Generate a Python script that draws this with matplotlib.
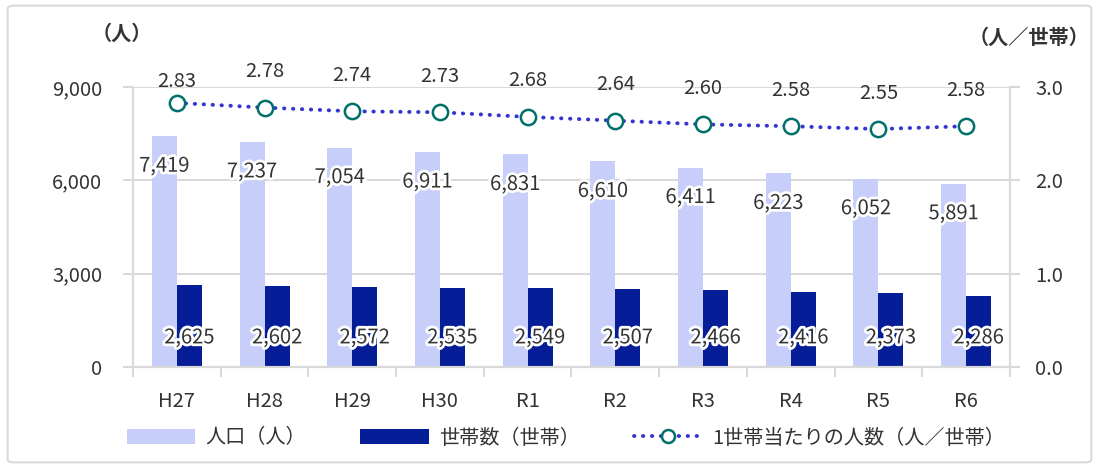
import numpy as np
import matplotlib
matplotlib.use("Agg")
import matplotlib.pyplot as plt
import matplotlib.patheffects as pe
from matplotlib.patches import FancyBboxPatch
from matplotlib.ticker import FuncFormatter, FixedLocator

plt.rcParams['font.family'] = ['Noto Sans CJK JP', 'DejaVu Sans']

# データ
years = ['H27', 'H28', 'H29', 'H30', 'R1', 'R2', 'R3', 'R4', 'R5', 'R6']
population = [7419, 7237, 7054, 6911, 6831, 6610, 6411, 6223, 6052, 5891]
households = [2625, 2602, 2572, 2535, 2549, 2507, 2466, 2416, 2373, 2286]
per_household = [2.83, 2.78, 2.74, 2.73, 2.68, 2.64, 2.60, 2.58, 2.55, 2.58]

light = '#C6CEF9'
dark = '#061D98'
line_c = '#3535D0'
marker_c = '#00706A'
grid_c = '#D9D9D9'
text_c = '#333333'
fs = 14.5

fig = plt.figure(figsize=(10.99, 4.68), dpi=100)
fig.patches.append(FancyBboxPatch((0.007, 0.012), 0.986, 0.976, boxstyle='round,pad=0,rounding_size=0.006',
                                  transform=fig.transFigure, fill=False, edgecolor=grid_c, linewidth=1.5))
ax = fig.add_axes([0.121, 0.216, 0.798, 0.598])
ax2 = ax.twinx()

x = np.arange(len(years))
w = 0.285
ax.bar(x - w / 2, population, w, color=light, zorder=2, label='人口（人）')
ax.bar(x + w / 2, households, w, color=dark, zorder=2, label='世帯数（世帯）')
ln, = ax2.plot(x, per_household, linestyle=(0, (0.1, 2.2)), dash_capstyle='round', color=line_c, linewidth=2.8,
               marker='o', markersize=11, markerfacecolor='white', markeredgecolor=marker_c,
               markeredgewidth=1.8, label='1世帯当たりの人数（人／世帯）', zorder=3)

glow = [pe.withStroke(linewidth=4, foreground='white')]
for i in range(len(years)):
    ax.annotate(f'{population[i]:,}', (x[i] - w / 2, population[i]), xytext=(0, -30),
                textcoords='offset pixels', ha='center', va='center', fontsize=fs, color=text_c,
                path_effects=glow, zorder=5)
    ax.annotate(f'{households[i]:,}', (x[i] + w / 2, 0), xytext=(0, 29),
                textcoords='offset pixels', ha='center', va='center', fontsize=fs, color=text_c,
                path_effects=glow, zorder=5)
    off = 21 if i == 0 else 36
    ax2.annotate(f'{per_household[i]:.2f}', (x[i], per_household[i]), xytext=(0, off),
                 textcoords='offset pixels', ha='center', va='center', fontsize=fs, color=text_c,
                 zorder=5)

ax.set_xlim(-0.5, len(years) - 0.5)
ax.set_ylim(0, 9000)
ax.set_yticks([0, 3000, 6000, 9000])
ax.yaxis.set_major_formatter(FuncFormatter(lambda v, p: f'{int(v):,}'))
ax2.set_ylim(0, 3.0)
ax2.set_yticks([0, 1.0, 2.0, 3.0])
ax2.yaxis.set_major_formatter(FuncFormatter(lambda v, p: f'{v:.1f}'))

ax.set_xticks(x)
ax.set_xticklabels(years)
ax.xaxis.set_minor_locator(FixedLocator(np.arange(-0.5, len(years), 1.0)))
ax.tick_params(axis='x', which='major', length=0, pad=17, labelsize=fs, labelcolor=text_c)
ax.tick_params(axis='x', which='minor', length=7, color=grid_c, width=1.5)
ax.tick_params(axis='y', length=7, color=grid_c, width=1.5, pad=15, labelsize=fs, labelcolor=text_c)
ax2.tick_params(axis='y', length=7, color=grid_c, width=1.5, pad=11, labelsize=fs, labelcolor=text_c)

ax.grid(axis='y', color=grid_c, linewidth=1.5, zorder=0)
ax.set_axisbelow(True)
for a in (ax, ax2):
    a.spines['top'].set_visible(False)
    for s in ('left', 'right', 'bottom'):
        a.spines[s].set_color(grid_c)
        a.spines[s].set_linewidth(1.5)

fig.text(0.111, 0.928, '（人）', ha='center', va='center', fontsize=fs, fontweight='bold', color=text_c)
fig.text(0.936, 0.92, '（人／世帯）', ha='center', va='center', fontsize=fs, fontweight='bold', color=text_c)

h1, l1 = ax.get_legend_handles_labels()
fig.legend(h1 + [ln], l1 + [ln.get_label()], loc='center', bbox_to_anchor=(0.515, 0.064), ncol=3,
           frameon=False, fontsize=fs, handlelength=3.4, numpoints=1, columnspacing=2.7,
           handletextpad=0.5, labelcolor=text_c, markerscale=0.85)

fig.savefig('out.png', dpi=100)
